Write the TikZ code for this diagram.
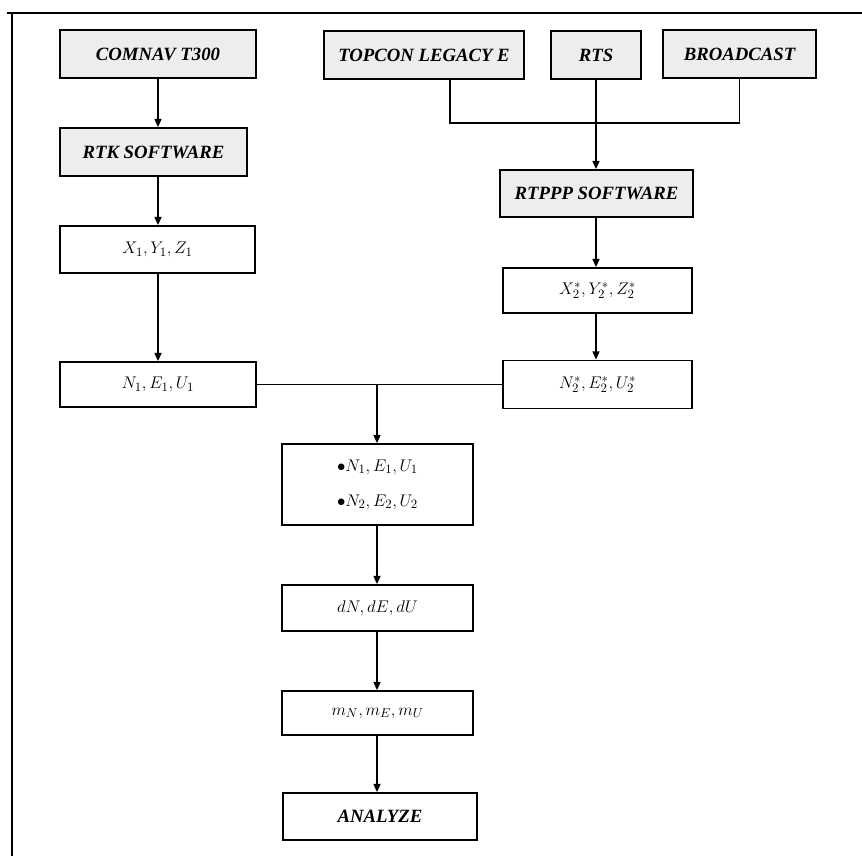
\documentclass[tikz,border=0pt]{standalone}
\usepackage{fontspec}
\newfontfamily\labelfont{Liberation Serif}
\usepackage{tikz}
\usetikzlibrary{arrows.meta}

\tikzset{
	box/.style={draw, line width=1.5pt, inner sep=0pt, align=center,
		font=\fontsize{15}{18}\selectfont},
	graybox/.style={box, fill=black!7, font=\fontsize{16}{19}\selectfont\labelfont\bfseries\itshape},
	arr/.style={line width=1.2pt, -{Triangle[length=7pt,width=6pt]}},
	con/.style={line width=1.2pt}
}

\begin{document}
\begin{tikzpicture}[x=0.03cm, y=-0.03cm]
		%%%%% START %%%%%
		\useasboundingbox (0, 0) rectangle (862, 856);
		
		\draw[line width=2.4pt] (7, 13) -- (862, 13);
		\draw[line width=2.4pt] (12, 13) -- (12, 856);
		
		% left column
		\node[graybox, minimum width=5.88cm, minimum height=1.44cm] (comnav) at (158, 54) {COMNAV T300};
		\node[graybox, minimum width=5.61cm, minimum height=1.44cm] (rtk) at (153.5, 152) {RTK SOFTWARE};
		\node[box, minimum width=5.85cm, minimum height=1.41cm] (xyzA) at (157.5, 249.5) {$X_1, Y_1, Z_1$};
		\node[box, minimum width=5.88cm, minimum height=1.35cm] (neuA) at (158, 384.5) {$N_1, E_1, U_1$};
		
		% right column
		\node[graybox, minimum width=6.00cm, minimum height=1.44cm] (topcon) at (424, 55) {TOPCON LEGACY E};
		\node[graybox, minimum width=2.70cm, minimum height=1.44cm] (rts) at (596, 55) {RTS};
		\node[graybox, minimum width=4.59cm, minimum height=1.44cm] (bcast) at (739.5, 54) {BROADCAST};
		\node[graybox, minimum width=5.79cm, minimum height=1.41cm] (rtppp) at (596.5, 193.5) {RTPPP SOFTWARE};
		\node[box, minimum width=5.67cm, minimum height=1.35cm] (xyzB) at (597.5, 290.5) {$X_2^{*}, Y_2^{*}, Z_2^{*}$};
		\node[box, minimum width=5.67cm, minimum height=1.44cm] (neuB) at (597.5, 384.5) {$N_2^{*}, E_2^{*}, U_2^{*}$};
		
		% middle column
		\node[box, minimum width=5.73cm, minimum height=2.43cm] (both) at (377.5, 484.5)
			{$\bullet N_1, E_1, U_1$\\[12pt] $\bullet N_2, E_2, U_2$};
		\node[box, minimum width=5.73cm, minimum height=1.38cm] (dneu) at (377.5, 608) {$dN, dE, dU$};
		\node[box, minimum width=5.73cm, minimum height=1.32cm] (mneu) at (377.5, 713) {$m_N, m_E, m_U$};
		\node[box, minimum width=5.82cm, minimum height=1.41cm, font=\fontsize{16}{19}\selectfont\labelfont\bfseries\itshape] (analyze) at (380, 816.5) {ANALYZE};
		
		\coordinate (join) at (596, 123);
		\coordinate (mid) at (377, 384.5);
		
		\draw[arr] (comnav.south) -- (comnav.south |- rtk.north);
		\draw[arr] (comnav.south |- rtk.south) -- (comnav.south |- xyzA.north);
		\draw[arr] (comnav.south |- xyzA.south) -- (comnav.south |- neuA.north);
		
		\draw[con] ([xshift=0.78cm]topcon.south) |- (join) -| (bcast.south);
		\draw[arr] (rts.south) -- (rts.south |- rtppp.north);
		\draw[arr] (rts.south |- rtppp.south) -- (rts.south |- xyzB.north);
		\draw[arr] (rts.south |- xyzB.south) -- (rts.south |- neuB.north);
		
		\draw[con] (neuA.east) -- (neuB.west);
		\draw[arr] (mid) -- (mid |- both.north);
		\draw[arr] (mid |- both.south) -- (mid |- dneu.north);
		\draw[arr] (mid |- dneu.south) -- (mid |- mneu.north);
		\draw[arr] (mid |- mneu.south) -- (mid |- analyze.north);
		
		%%%%% END %%%%%
	\end{tikzpicture}
\end{document}
